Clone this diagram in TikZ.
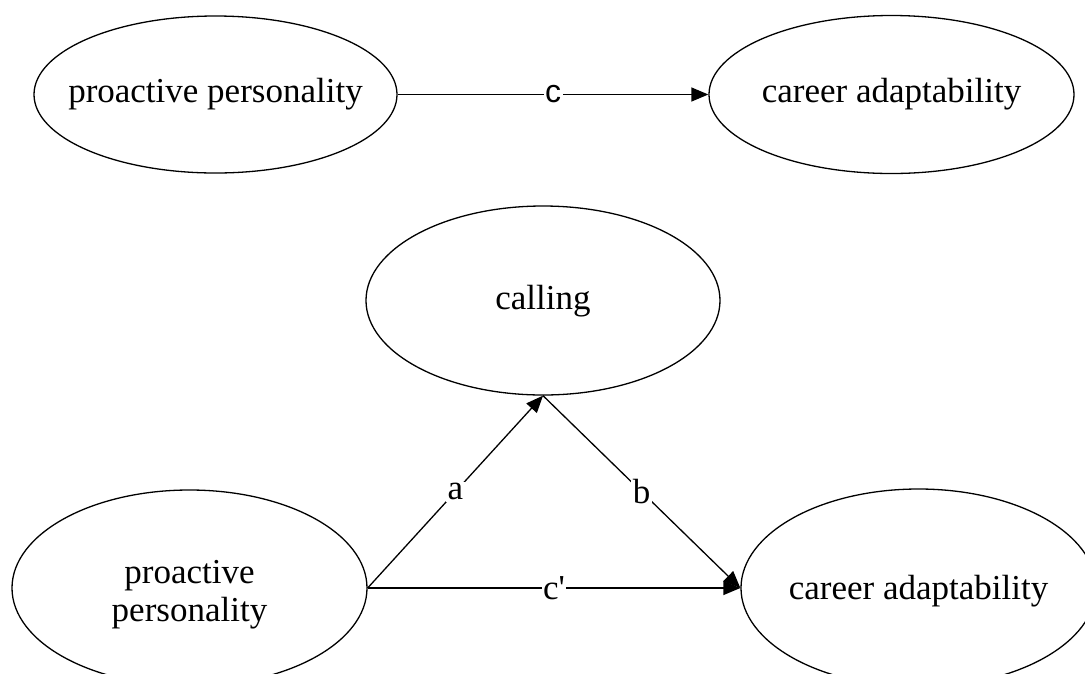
\documentclass[tikz,border=0pt]{standalone}
\usepackage{fontspec}
\setmainfont{Liberation Serif}
\newfontfamily\labsans{Liberation Sans}
\usetikzlibrary{shapes.geometric,arrows.meta}
\tikzset{
  oval/.style={draw, ellipse, line width=1.3pt, inner sep=0pt},
  ovaltext/.style={font=\fontsize{35}{38}\selectfont, align=center, inner sep=0pt},
  link/.style={line width=1.3pt, -{Triangle[length=17pt,width=14pt]}},
  edgelab/.style={fill=white, inner sep=1.5pt, font=\fontsize{35}{38}\selectfont},
  edgelabsans/.style={fill=white, inner sep=1.5pt, font=\labsans\fontsize{32}{34}\selectfont}
}
\begin{document}
\begin{tikzpicture}[x=1pt,y=-1pt]
\useasboundingbox (0,0) rectangle (1085,673);
\clip (0,0) rectangle (1085,673);
% top row
\node[oval, minimum width=363pt, minimum height=157pt,
      label={[ovaltext]center:proactive personality}] (pp1) at (215.5,94.5) {};
\node[oval, minimum width=365pt, minimum height=158pt,
      label={[ovaltext]center:career adaptability}] (ca1) at (891.5,94.5) {};
\draw[link] (pp1.east) -- node[edgelabsans] (lc) {c} (ca1.west);
% bottom
\node[oval, minimum width=354pt, minimum height=189pt,
      label={[ovaltext, yshift=-1pt]center:calling}] (cal) at (543,300.5) {};
\node[oval, minimum width=355pt, minimum height=196pt,
      label={[ovaltext, yshift=-7pt]center:proactive\\personality}] (pp2) at (189.5,588) {};
\node[oval, minimum width=355pt, minimum height=198pt,
      label={[ovaltext, yshift=-3pt]center:career adaptability}] (ca2) at (918.5,588) {};
\draw[link] (pp2.east) -- node[edgelab] (la) {a} (cal.south);
\draw[link] (cal.south) -- node[edgelab] (lb) {b} (ca2.west);
\draw[link] (pp2.east) -- node[edgelab] (lcp) {{\addfontfeature{Ligatures=TeXOff}c'}} (ca2.west);
\end{tikzpicture}
\end{document}
